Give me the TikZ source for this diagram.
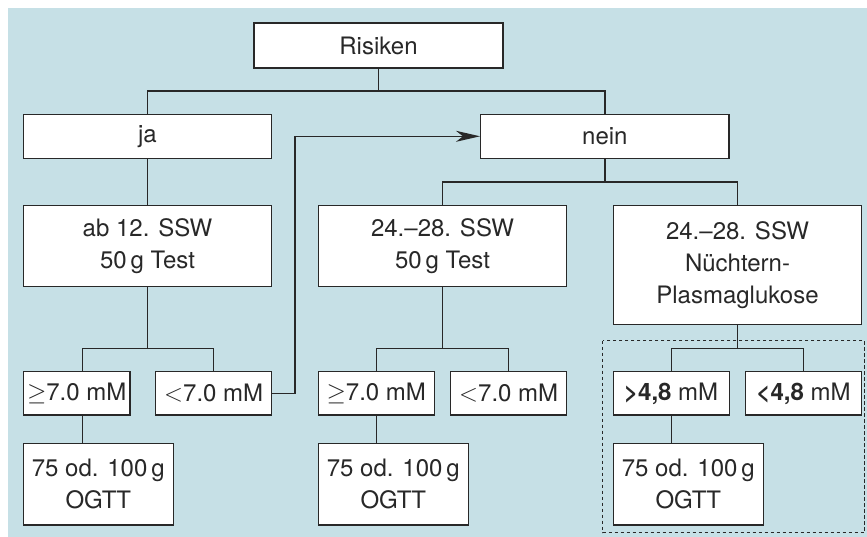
\documentclass[tikz,border=0pt]{standalone}
\usepackage{fontspec}
\setmainfont{TeX Gyre Heros}
\usepackage{tikz}
\usetikzlibrary{arrows.meta}
\definecolor{panel}{RGB}{198,224,230}
\definecolor{ink}{RGB}{40,40,40}
\tikzset{>={Stealth[length=24pt,width=11pt,inset=7pt]},
         box/.style={draw=ink, fill=white, line width=1.4pt, inner sep=0pt,
           align=center, text=ink, font=\fontsize{24}{31.7}\selectfont},
         bigbox/.style={box, minimum width=248.4pt},
         valbox/.style={box, minimum width=116pt, minimum height=43.3pt},
         ogttbox/.style={box, minimum width=150pt, minimum height=81.7pt},
         link/.style={draw=ink, line width=1.4pt}}

\begin{document}
\begin{tikzpicture}[x=1pt,y=-1pt]
  \useasboundingbox (0,0) rectangle (867,537);
  \fill[panel] (8,8) rectangle (867,537);
  \draw[ink, line width=1.3pt, dash pattern=on 3.5pt off 2.5pt]
    (602.7,340.7) rectangle (864.5,532.7);
  \node (risk) [bigbox, minimum width=249pt, minimum height=45pt] at (378.5,45.5) {Risiken};
  \node (ja)   [bigbox, minimum height=44pt] at (147.5,136.3) {ja};
  \node (nein) [bigbox, minimum height=44pt] at (604.9,136.3) {nein};
  \node (ab)   [bigbox, minimum height=81pt] at (147.5,246.2) {ab 12. SSW\\50\,g Test};
  \node (gct)  [bigbox, minimum height=81pt] at (442.5,246.2) {24.--28. SSW\\50\,g Test};
  \node (fpg)  [bigbox, minimum height=118.6pt] at (737.5,265) {24.--28. SSW\\Nüchtern-\\Plasmaglukose};
  \node (ge1)  [valbox, minimum width=106.7pt] at (76.7,393.4) {$\geq$7.0 mM};
  \node (lt1)  [valbox] at (213.7,393.4) {$<$7.0 mM};
  \node (ge2)  [valbox] at (376.3,393.4) {$\geq$7.0 mM};
  \node (lt2)  [valbox] at (508.7,393.4) {$<$7.0 mM};
  \node (hi3)  [valbox] at (671.2,393.4) {\textbf{>4,8} mM};
  \node (lo3)  [valbox] at (803.5,393.4) {\textbf{<4,8} mM};
  \node (ogtt1) [ogttbox] at (98.3,484.2) {75 od. 100\,g\\OGTT};
  \node (ogtt2) [ogttbox] at (393.3,484.2) {75 od. 100\,g\\OGTT};
  \node (ogtt3) [ogttbox] at (688.3,484.2) {75 od. 100\,g\\OGTT};
  \coordinate (jr) at (378.5,91);
  \coordinate (jn) at (604.9,182);
  \coordinate (b1) at (82.3,348.3);
  \coordinate (b2) at (442.5,348.3);
  \coordinate (b3) at (737.5,348.3);
  \coordinate (turn) at (295,136.3);
  \path[link] (risk.south) -- (jr);
  \path[link] (ja.north) |- (jr) -| (nein.north);
  \path[link] (ja) -- (ab);
  \path[link] (nein.south) -- (jn);
  \path[link] (gct.north) |- (jn) -| (fpg.north);
  \path[link] (ab.south) -- (ab.south |- b1);
  \path[link] (b1 |- ge1.north) -- (b1) -| (lt1.north);
  \path[link] (b1 |- ge1.south) -- (b1 |- ogtt1.north);
  \path[link] (gct.south) -- (b2);
  \path[link] (ge2.north) |- (b2) -| (lt2.north);
  \path[link] (ge2.south) -- (ge2.south |- ogtt2.north);
  \path[link] (fpg.south) -- (b3);
  \path[link] (hi3.north) |- (b3) -| (lo3.north);
  \path[link] (hi3.south) -- (hi3.south |- ogtt3.north);
  \path[link, ->] (lt1.east) -| (turn) -- (nein.west);
\end{tikzpicture}
\end{document}
